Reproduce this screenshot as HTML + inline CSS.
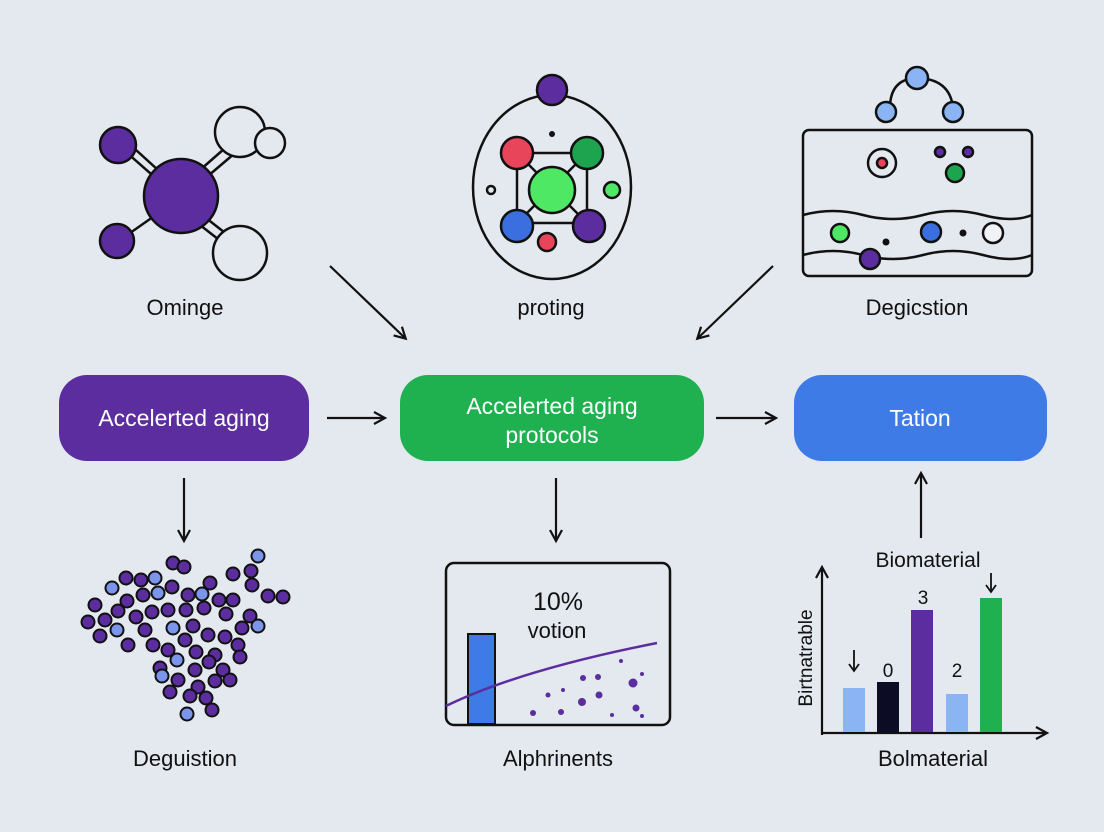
<!DOCTYPE html>
<html><head><style>
body{margin:0;background:#e4e8ef;}
svg{display:block;font-family:"Liberation Sans",sans-serif;}
</style></head><body>
<svg width="1104" height="832" viewBox="0 0 1104 832">
<rect width="1104" height="832" fill="#e4e8ef"/>
<defs><marker id="ah" markerWidth="10" markerHeight="10" refX="8" refY="5" orient="auto" markerUnits="userSpaceOnUse" viewBox="0 0 10 10"><path d="M0,0 L10,5 L0,10 z" fill="#111"/></marker>
<marker id="ah2" markerWidth="16" markerHeight="16" refX="12" refY="8" orient="auto" markerUnits="userSpaceOnUse" viewBox="0 0 16 16"><path d="M2,2 L13,8 L2,14" fill="none" stroke="#111" stroke-width="2.2"/></marker></defs>
<g stroke="#111" stroke-width="2.5" fill="none">
<!-- left molecule -->
<line x1="118" y1="145" x2="175" y2="195"/><line x1="125" y1="140" x2="180" y2="190"/>
<line x1="120" y1="240" x2="170" y2="205"/>
<line x1="200" y1="170" x2="240" y2="135"/><line x1="208" y1="176" x2="248" y2="142"/>
<line x1="200" y1="225" x2="232" y2="250"/><line x1="206" y1="218" x2="238" y2="243"/>
<circle cx="240" cy="132" r="25" fill="#e4e8ef"/><circle cx="270" cy="143" r="15" fill="#e4e8ef"/>
<circle cx="240" cy="253" r="27" fill="#e4e8ef"/>
<circle cx="118" cy="145" r="18" fill="#5b2d9e"/><circle cx="117" cy="241" r="17" fill="#5b2d9e"/>
<circle cx="181" cy="196" r="37" fill="#5b2d9e"/>
<!-- middle -->
<ellipse cx="552" cy="187" rx="79" ry="92" fill="#e4e8ef"/>
<circle cx="552" cy="90" r="15" fill="#5b2d9e"/>
<rect x="517" y="153" width="70" height="70"/>
<line x1="517" y1="153" x2="587" y2="223"/><line x1="587" y1="153" x2="517" y2="223"/>
<circle cx="517" cy="153" r="16" fill="#e8455a"/><circle cx="587" cy="153" r="16" fill="#1ea44f"/>
<circle cx="517" cy="226" r="16" fill="#3b6fe0"/><circle cx="589" cy="226" r="16" fill="#5b2d9e"/>
<circle cx="552" cy="190" r="23" fill="#4fe864"/>
<circle cx="612" cy="190" r="8" fill="#4fe864"/><circle cx="491" cy="190" r="4"/>
<circle cx="547" cy="242" r="9" fill="#e8455a"/>
<!-- right -->
<path d="M890,108 Q890,80 915,78 Q950,78 953,108"/>
<circle cx="917" cy="78" r="11" fill="#8ab4f4"/><circle cx="886" cy="112" r="10" fill="#8ab4f4"/><circle cx="953" cy="112" r="10" fill="#8ab4f4"/>
<rect x="803" y="130" width="229" height="146" rx="6"/>
<circle cx="882" cy="163" r="14"/><circle cx="882" cy="163" r="5" fill="#e8455a"/>
<circle cx="940" cy="152" r="5" fill="#5b2d9e"/><circle cx="968" cy="152" r="5" fill="#5b2d9e"/>
<circle cx="955" cy="173" r="9" fill="#1ea44f"/>
<path d="M803,215 q30,-8 60,0 t60,0 t60,0 t49,0"/>
<path d="M803,255 q30,-8 60,0 t60,0 t60,0 t49,0"/>
<circle cx="840" cy="233" r="9" fill="#4fe864"/><circle cx="931" cy="232" r="10" fill="#3b6fe0"/>
<circle cx="993" cy="233" r="10" fill="#f0f2f5"/><circle cx="870" cy="259" r="10" fill="#5b2d9e"/>
</g>
<circle cx="552" cy="134" r="3" fill="#111"/><circle cx="886" cy="242" r="3.5" fill="#111"/><circle cx="963" cy="233" r="3.5" fill="#111"/>
<g font-size="22" fill="#111" text-anchor="middle">
<text x="185" y="315">Ominge</text><text x="551" y="315">proting</text><text x="917" y="315">Degicstion</text>
<text x="185" y="766">Deguistion</text><text x="558" y="766">Alphrinents</text><text x="933" y="766">Bolmaterial</text>
</g>
<g stroke="#111" stroke-width="2.2">
<line x1="330" y1="266" x2="405" y2="338" marker-end="url(#ah2)"/>
<line x1="773" y1="266" x2="698" y2="338" marker-end="url(#ah2)"/>
<line x1="327" y1="418" x2="384" y2="418" marker-end="url(#ah2)"/>
<line x1="716" y1="418" x2="775" y2="418" marker-end="url(#ah2)"/>
<line x1="184" y1="478" x2="184" y2="540" marker-end="url(#ah2)"/>
<line x1="556" y1="478" x2="556" y2="540" marker-end="url(#ah2)"/>
<line x1="921" y1="538" x2="921" y2="474" marker-end="url(#ah2)"/>
</g>
<rect x="59" y="375" width="250" height="86" rx="28" fill="#5b2d9e"/>
<rect x="400" y="375" width="304" height="86" rx="28" fill="#1fb04f"/>
<rect x="794" y="375" width="253" height="86" rx="28" fill="#3f7be6"/>
<g font-size="23" fill="#fff" text-anchor="middle">
<text x="184" y="426">Accelerted aging</text>
<text x="552" y="414">Accelerted aging</text><text x="552" y="443">protocols</text>
<text x="920" y="426">Tation</text>
</g>
<!-- scatter -->
<g stroke="#111" stroke-width="2" fill="#5b2d9e">
<circle cx="173" cy="563" r="6.5"/><circle cx="258" cy="556" r="6.5" fill="#7b95ea"/><circle cx="126" cy="578" r="6.5"/><circle cx="141" cy="580" r="6.5"/><circle cx="155" cy="578" r="6.5" fill="#7b95ea"/><circle cx="184" cy="567" r="6.5"/><circle cx="210" cy="583" r="6.5"/><circle cx="233" cy="574" r="6.5"/><circle cx="251" cy="571" r="6.5"/><circle cx="252" cy="585" r="6.5"/><circle cx="268" cy="596" r="6.5"/><circle cx="283" cy="597" r="6.5"/>
<circle cx="95" cy="605" r="6.5"/><circle cx="112" cy="588" r="6.5" fill="#7b95ea"/><circle cx="127" cy="601" r="6.5"/><circle cx="143" cy="595" r="6.5"/><circle cx="158" cy="593" r="6.5" fill="#7b95ea"/><circle cx="172" cy="587" r="6.5"/><circle cx="188" cy="595" r="6.5"/><circle cx="202" cy="594" r="6.5" fill="#7b95ea"/><circle cx="219" cy="600" r="6.5"/><circle cx="233" cy="600" r="6.5"/>
<circle cx="88" cy="622" r="6.5"/><circle cx="105" cy="620" r="6.5"/><circle cx="118" cy="611" r="6.5"/><circle cx="136" cy="617" r="6.5"/><circle cx="152" cy="612" r="6.5"/><circle cx="168" cy="610" r="6.5"/><circle cx="186" cy="610" r="6.5"/><circle cx="204" cy="608" r="6.5"/><circle cx="226" cy="614" r="6.5"/><circle cx="250" cy="616" r="6.5"/><circle cx="258" cy="626" r="6.5" fill="#7b95ea"/>
<circle cx="100" cy="636" r="6.5"/><circle cx="117" cy="630" r="6.5" fill="#7b95ea"/><circle cx="145" cy="630" r="6.5"/><circle cx="173" cy="628" r="6.5" fill="#7b95ea"/><circle cx="193" cy="626" r="6.5"/><circle cx="208" cy="635" r="6.5"/><circle cx="225" cy="637" r="6.5"/><circle cx="242" cy="628" r="6.5"/>
<circle cx="128" cy="645" r="6.5"/><circle cx="153" cy="645" r="6.5"/><circle cx="168" cy="650" r="6.5"/><circle cx="185" cy="640" r="6.5"/><circle cx="196" cy="652" r="6.5"/><circle cx="215" cy="655" r="6.5"/><circle cx="238" cy="645" r="6.5"/>
<circle cx="160" cy="668" r="6.5"/><circle cx="177" cy="660" r="6.5" fill="#7b95ea"/><circle cx="195" cy="670" r="6.5"/><circle cx="209" cy="662" r="6.5"/><circle cx="223" cy="670" r="6.5"/><circle cx="240" cy="657" r="6.5"/><circle cx="162" cy="676" r="6.5" fill="#7b95ea"/>
<circle cx="178" cy="680" r="6.5"/><circle cx="198" cy="687" r="6.5"/><circle cx="215" cy="681" r="6.5"/><circle cx="230" cy="680" r="6.5"/>
<circle cx="170" cy="692" r="6.5"/><circle cx="190" cy="696" r="6.5"/><circle cx="206" cy="698" r="6.5"/><circle cx="187" cy="714" r="6.5" fill="#7b95ea"/><circle cx="212" cy="710" r="6.5"/>
</g>
<!-- middle chart -->
<rect x="446" y="563" width="224" height="162" rx="8" fill="none" stroke="#111" stroke-width="2.5"/>
<rect x="468" y="634" width="27" height="90" fill="#3f7be6" stroke="#111" stroke-width="2"/>
<path d="M446,706 Q520,670 657,643" fill="none" stroke="#5b2d9e" stroke-width="2.5"/>
<g fill="#5b2d9e"><circle cx="548" cy="695" r="2.5"/><circle cx="563" cy="690" r="2"/><circle cx="533" cy="713" r="3"/><circle cx="561" cy="712" r="3"/><circle cx="583" cy="678" r="3"/><circle cx="598" cy="677" r="3"/><circle cx="582" cy="702" r="4"/><circle cx="599" cy="695" r="3.5"/><circle cx="633" cy="683" r="4.5"/><circle cx="642" cy="674" r="2"/><circle cx="621" cy="661" r="2"/><circle cx="612" cy="715" r="2"/><circle cx="636" cy="708" r="3.5"/><circle cx="642" cy="716" r="2"/></g>
<text x="558" y="610" font-size="25" fill="#111" text-anchor="middle">10%</text>
<text x="557" y="638" font-size="22" fill="#111" text-anchor="middle">votion</text>
<!-- bar chart -->
<line x1="822" y1="735" x2="822" y2="568" stroke="#111" stroke-width="2.2" marker-end="url(#ah2)"/>
<line x1="822" y1="733" x2="1046" y2="733" stroke="#111" stroke-width="2.2" marker-end="url(#ah2)"/>
<rect x="843" y="688" width="22" height="44" fill="#8ab4f4"/>
<rect x="877" y="682" width="22" height="50" fill="#0c0c24"/>
<rect x="911" y="610" width="22" height="122" fill="#5b2d9e"/>
<rect x="946" y="694" width="22" height="38" fill="#8ab4f4"/>
<rect x="980" y="598" width="22" height="134" fill="#1fb04f"/>
<g font-size="19" fill="#111" text-anchor="middle"><text x="888" y="677">0</text><text x="923" y="604">3</text><text x="957" y="677">2</text></g>
<text x="928" y="567" font-size="21" fill="#111" text-anchor="middle">Biomaterial</text>
<text transform="translate(812,658) rotate(-90)" font-size="19" fill="#111" text-anchor="middle">Birtnatrable</text>
<g stroke="#111" stroke-width="1.8" fill="none"><line x1="854" y1="650" x2="854" y2="670"/><path d="M849,664 L854,671 L859,664"/><line x1="991" y1="573" x2="991" y2="591"/><path d="M986,585 L991,592 L996,585"/></g>
</svg>
</body></html>
